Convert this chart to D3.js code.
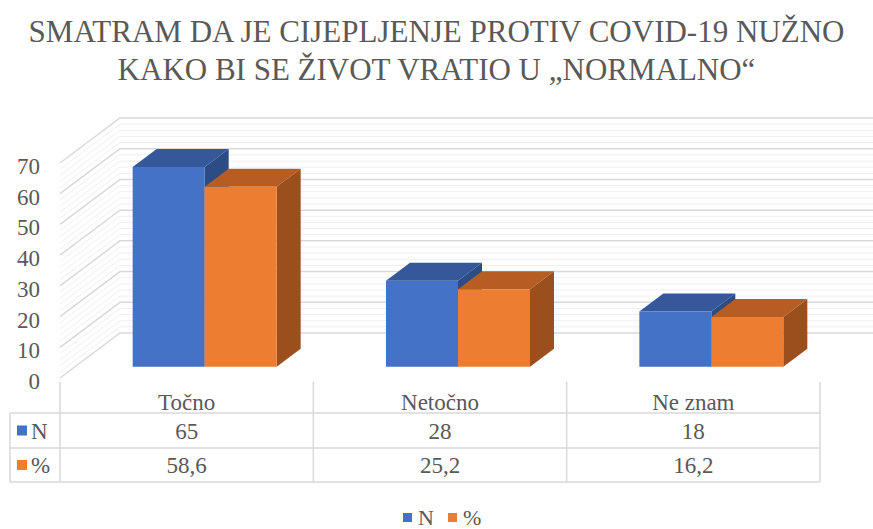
<!DOCTYPE html>
<html>
<head>
<meta charset="utf-8">
<script src="https://cdn.jsdelivr.net/npm/d3@7"></script>
<style>
  body { margin: 0; background: #fff; }
</style>
</head>
<body>
<svg id="chart" width="873" height="529" font-family="'Liberation Serif', 'DejaVu Serif', serif"></svg>
<script>
const titleLines = ["SMATRAM DA JE CIJEPLJENJE PROTIV COVID-19 NUŽNO", "KAKO BI SE ŽIVOT VRATIO U „NORMALNO“"];
const categories = ["Točno", "Netočno", "Ne znam"];
const seriesNames = ["N", "%"];
const valuesN = [65, 28, 18];
const valuesPct = [58.6, 25.2, 16.2];
const labelsN = ["65", "28", "18"];
const labelsPct = ["58,6", "25,2", "16,2"];
const yTicks = [0, 10, 20, 30, 40, 50, 60, 70];

const width = 873, height = 529;
const textColor = "#595959";
const gridColor = "#d9d9d9";
const minorColor = "#efefef";
const colors = [
  {front: "#4472c4", top: "#34589a", side: "#2c4c86"},
  {front: "#ed7d31", top: "#b55d22", side: "#9a4f1d"}
];
const series = [valuesN, valuesPct];
const seriesLabels = [labelsN, labelsPct];

// floor front edge and depth vector of the 3D box
const depth = {dx: 60, dy: -45};
const x = d3.scaleBand().domain(categories).range([60, 820]);
const y = d3.scaleLinear().domain([0, 70]).range([378, 163]);
const barW = 72;
const d0 = 0.25, d1 = 0.65; // bar depth from / to (fraction of box depth)

const proj = (px, v, d) => [px + depth.dx * d, y(v) + depth.dy * d];

const svg = d3.select("#chart");

// title
svg.append("g")
  .selectAll("text")
  .data(titleLines)
  .join("text")
    .attr("x", width / 2)
    .attr("y", (d, i) => 42 + i * 38)
    .attr("text-anchor", "middle")
    .attr("fill", textColor)
    .attr("font-size", 31)
    .text(d => d);

// walls: minor and major gridlines
const minor = d3.range(0, 70.01, 2).filter(v => v % 10 !== 0);
const walls = svg.append("g");
function wallLines(vals, color, w) {
  walls.append("g")
    .selectAll("path")
    .data(vals)
    .join("path")
      .attr("fill", "none")
      .attr("stroke", color)
      .attr("stroke-width", w)
      .attr("d", v => {
        const a = proj(60, v, 0), b = proj(60, v, 1);
        return `M${a[0]},${a[1]}L${b[0]},${b[1]}H${width}`;
      });
}
wallLines(minor, minorColor, 1);
wallLines(yTicks, gridColor, 1.5);

// y axis labels
svg.append("g")
  .selectAll("text")
  .data(yTicks)
  .join("text")
    .attr("x", 40)
    .attr("y", d => y(d) + 3)
    .attr("dy", "0.35em")
    .attr("text-anchor", "end")
    .attr("fill", textColor)
    .attr("font-size", 23)
    .text(d => d);

// bars
const bars = [];
categories.forEach((c, ci) => {
  const gx = x(c) + x.bandwidth() / 2 + 3 - barW;
  series.forEach((vals, si) => {
    bars.push({x0: gx + si * barW, v: vals[ci], si});
  });
});

const barG = svg.append("g")
  .selectAll("g")
  .data(bars)
  .join("g");

const poly = pts => "M" + pts.map(p => p.join(",")).join("L") + "Z";

barG.append("path")
    .attr("fill", d => colors[d.si].top)
    .attr("d", d => poly([
      proj(d.x0, d.v, d0), proj(d.x0 + barW, d.v, d0),
      proj(d.x0 + barW, d.v, d1), proj(d.x0, d.v, d1)]));

barG.append("path")
    .attr("fill", d => colors[d.si].side)
    .attr("d", d => poly([
      proj(d.x0 + barW, 0, d0), proj(d.x0 + barW, d.v, d0),
      proj(d.x0 + barW, d.v, d1), proj(d.x0 + barW, 0, d1)]));

barG.append("path")
    .attr("fill", d => colors[d.si].front)
    .attr("d", d => poly([
      proj(d.x0, 0, d0), proj(d.x0 + barW, 0, d0),
      proj(d.x0 + barW, d.v, d0), proj(d.x0, d.v, d0)]));

// data table
const rowY = [382, 413, 448, 482];
const table = svg.append("g")
  .attr("stroke", gridColor)
  .attr("stroke-width", 1.5);

table.selectAll("line.v")
  .data([60, ...categories.map(c => x(c) + x.bandwidth())])
  .join("line")
    .attr("x1", d => d).attr("x2", d => d)
    .attr("y1", rowY[0]).attr("y2", rowY[3]);

table.append("line")
    .attr("x1", 10).attr("x2", 10)
    .attr("y1", rowY[1]).attr("y2", rowY[3]);

table.selectAll("line.h")
  .data(rowY.slice(1))
  .join("line")
    .attr("x1", 10).attr("x2", 820)
    .attr("y1", d => d).attr("y2", d => d);

svg.append("g")
  .selectAll("text")
  .data(categories)
  .join("text")
    .attr("x", d => x(d) + x.bandwidth() / 2)
    .attr("y", 402)
    .attr("dy", "0.35em")
    .attr("text-anchor", "middle")
    .attr("fill", textColor)
    .attr("font-size", 23)
    .text(d => d);

seriesLabels.forEach((labs, si) => {
  const cy = (rowY[si + 1] + rowY[si + 2]) / 2;
  const row = svg.append("g");
  row.append("rect")
      .attr("x", 17).attr("y", cy - 5)
      .attr("width", 10).attr("height", 10)
      .attr("fill", colors[si].front);
  row.append("text")
      .attr("x", 31).attr("y", cy)
      .attr("dy", "0.35em")
      .attr("fill", textColor)
      .attr("font-size", 23)
      .text(seriesNames[si]);
  row.selectAll("text.val")
    .data(labs)
    .join("text")
      .attr("x", (d, i) => x(categories[i]) + x.bandwidth() / 2)
      .attr("y", cy)
      .attr("dy", "0.35em")
      .attr("text-anchor", "middle")
      .attr("fill", textColor)
      .attr("font-size", 23)
      .text(d => d);
});

// legend
const legend = svg.append("g")
  .selectAll("g")
  .data(seriesNames)
  .join("g")
    .attr("transform", (d, i) => `translate(${403 + i * 45},517)`);
legend.append("rect")
    .attr("y", -4)
    .attr("width", 9).attr("height", 9)
    .attr("fill", (d, i) => colors[i].front);
legend.append("text")
    .attr("x", 15)
    .attr("dy", "0.35em")
    .attr("fill", textColor)
    .attr("font-size", 22)
    .text(d => d);
</script>
</body>
</html>
